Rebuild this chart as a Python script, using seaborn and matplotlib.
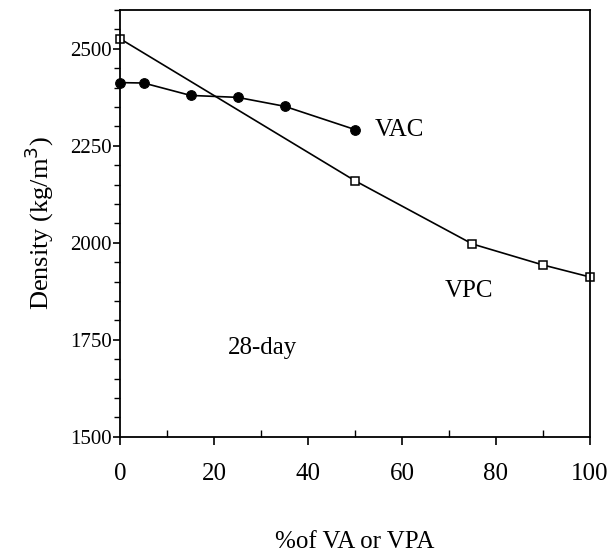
import matplotlib
matplotlib.use("Agg")
import matplotlib.pyplot as plt
import pandas as pd
import seaborn as sns
from matplotlib.ticker import MultipleLocator

# values
vac_pct = [0, 5, 15, 25, 35, 50]
vac_density = [2413, 2412, 2380, 2375, 2352, 2292]
vpc_pct = [0, 50, 75, 90, 100]
vpc_density = [2526, 2160, 1997, 1943, 1912]

x_ticks = [0, 20, 40, 60, 80, 100]
y_ticks = [1500, 1750, 2000, 2250, 2500]

sns.set_style("ticks")
plt.rcParams["font.family"] = ["Liberation Serif", "DejaVu Serif"]
plt.rcParams["text.color"] = "black"
plt.rcParams["axes.labelcolor"] = "black"
plt.rcParams["xtick.color"] = "black"
plt.rcParams["ytick.color"] = "black"

vac = pd.DataFrame({"pct": vac_pct, "density": vac_density})
vpc = pd.DataFrame({"pct": vpc_pct, "density": vpc_density})

fig = plt.figure(figsize=(6.1, 5.6), dpi=100)
ax = fig.add_axes([0.197, 0.22, 0.77, 0.762])

sns.lineplot(data=vac, x="pct", y="density", ax=ax, color="black", lw=1.2,
             marker="o", markersize=7, markeredgecolor="black", clip_on=False)
sns.lineplot(data=vpc, x="pct", y="density", ax=ax, color="black", lw=1.2,
             marker="s", markersize=6, markerfacecolor="white",
             markeredgecolor="black", markeredgewidth=1.1, clip_on=False)

ax.set_xlim(0, 100)
ax.set_ylim(1500, 2600)
ax.set_xticks(x_ticks)
ax.set_yticks(y_ticks)
ax.xaxis.set_minor_locator(MultipleLocator(10))
ax.yaxis.set_minor_locator(MultipleLocator(50))
ax.tick_params(axis="x", which="major", direction="out", length=6, width=1.2,
               labelsize=18, pad=13)
ax.tick_params(axis="x", which="minor", direction="in", length=5, width=1)
ax.tick_params(axis="y", which="major", direction="out", length=5, width=1.2,
               labelsize=15, pad=1)
ax.tick_params(axis="y", which="minor", direction="out", length=4, width=1)
for side in ["top", "right", "left", "bottom"]:
    ax.spines[side].set_visible(True)
    ax.spines[side].set_linewidth(1.3)
    ax.spines[side].set_color("black")

ax.set_xlabel("%of VA or VPA", fontsize=18, labelpad=33)
ax.set_ylabel("Density (kg/m$^3$)", fontsize=19, labelpad=10)

ax.text(54.3, 2290, "VAC", fontsize=18, va="center")
ax.text(69.0, 1875, "VPC", fontsize=18, va="center")
ax.text(23.0, 1730, "28-day", fontsize=18, va="center")

fig.savefig("out.png", dpi=100)
